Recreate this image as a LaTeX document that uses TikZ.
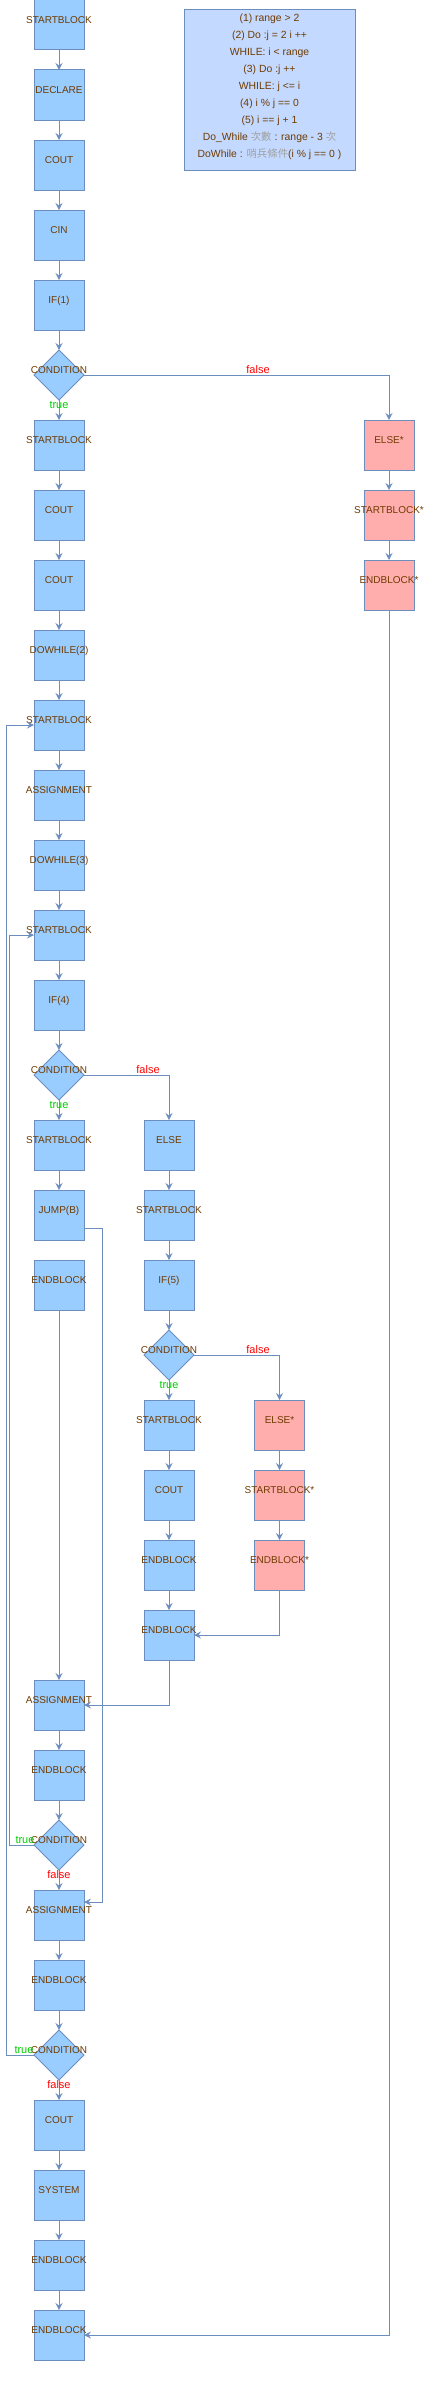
\documentclass[tikz,border=0pt]{standalone}
\usepackage{fontspec}
\setmainfont{Liberation Sans}
\newfontfamily\cjkfont{Noto Sans CJK TC}
\usetikzlibrary{shapes.geometric,arrows.meta}
\definecolor{ec}{HTML}{6C8EBF}
\definecolor{bf}{HTML}{99CCFF}
\definecolor{pf}{HTML}{FFADAD}
\definecolor{lf}{HTML}{C3D9FF}
\definecolor{tc}{HTML}{6F3B00}
\definecolor{gt}{HTML}{00CC00}
\definecolor{rt}{HTML}{FF0000}
\definecolor{cg}{HTML}{A0A0A0}
\tikzset{
 blk/.style={draw=ec, line width=1pt, minimum width=50pt, minimum height=50pt, inner sep=0pt, outer sep=0pt},
 dia/.style={blk, diamond, aspect=1, fill=bf},
 lbl/.style={text=tc, font=\fontsize{10}{12}\selectfont, inner sep=0pt, anchor=base},
 leg/.style={text=tc, font=\fontsize{10.4}{12}\selectfont, inner sep=0pt, anchor=base},
 arr/.style={draw=ec, line width=1pt, -{Stealth[length=7pt,width=7pt,inset=2.5pt]}},
 tl/.style={text=gt, font=\fontsize{11}{13}\selectfont, inner sep=0pt},
 fl/.style={text=rt, font=\fontsize{11}{13}\selectfont, inner sep=0pt},
}
\newcommand\bx[5]{%
  \node[blk, fill=#5] (#1) at (#2,#3+25) {};
  \node[lbl] (#1t) at (#2,#3+23.6) {#4};}
\newcommand\dm[3]{%
  \node[dia] (#1) at (#2,#3+25) {};
  \node[lbl] (#1t) at (#2,#3+23.6) {CONDITION};}
\begin{document}
\begin{tikzpicture}[x=1pt,y=-1pt]
\useasboundingbox (0,0) rectangle (430,2382);
% legend
\node[draw=ec, fill=lf, line width=1pt, minimum width=171pt, minimum height=160pt, inner sep=0pt] (legend) at (269.5,90) {};
\node[leg] (g1) at (269.5,21.1) {(1) range > 2};
\node[leg] (g2) at (269.5,38.1) {(2) Do :j = 2 i ++};
\node[leg] (g3) at (269.5,55.1) {WHILE: i < range};
\node[leg] (g4) at (269.5,72.1) {(3) Do :j ++};
\node[leg] (g5) at (269.5,89.1) {WHILE: j <= i};
\node[leg] (g6) at (269.5,106.1) {(4) i \% j == 0};
\node[leg] (g7) at (269.5,123.1) {(5) i == j + 1};
\node[leg] (g8) at (269.5,140.1) {Do\_While {\cjkfont\color{cg}次數} : range - 3 {\cjkfont\color{cg}次}};
\node[leg] (g9) at (269.5,157.1) {DoWhile : {\cjkfont\color{cg}哨兵條件}(i \% j == 0 )};
% main column
\bx{a1}{59}{0}{STARTBLOCK}{bf}
\bx{a2}{59}{70}{DECLARE}{bf}
\bx{a3}{59}{140}{COUT}{bf}
\bx{a4}{59}{210}{CIN}{bf}
\bx{a5}{59}{280}{IF(1)}{bf}
\dm{c1}{59}{350}
\bx{a6}{59}{420}{STARTBLOCK}{bf}
\bx{a7}{59}{490}{COUT}{bf}
\bx{a8}{59}{560}{COUT}{bf}
\bx{a9}{59}{630}{DOWHILE(2)}{bf}
\bx{a10}{59}{700}{STARTBLOCK}{bf}
\bx{a11}{59}{770}{ASSIGNMENT}{bf}
\bx{a12}{59}{840}{DOWHILE(3)}{bf}
\bx{a13}{59}{910}{STARTBLOCK}{bf}
\bx{a14}{59}{980}{IF(4)}{bf}
\dm{c2}{59}{1050}
\bx{a15}{59}{1120}{STARTBLOCK}{bf}
\bx{a16}{59}{1190}{JUMP(B)}{bf}
\bx{a17}{59}{1260}{ENDBLOCK}{bf}
\bx{a18}{59}{1680}{ASSIGNMENT}{bf}
\bx{a19}{59}{1750}{ENDBLOCK}{bf}
\dm{c4}{59}{1820}
\bx{a20}{59}{1890}{ASSIGNMENT}{bf}
\bx{a21}{59}{1960}{ENDBLOCK}{bf}
\dm{c5}{59}{2030}
\bx{a22}{59}{2100}{COUT}{bf}
\bx{a23}{59}{2170}{SYSTEM}{bf}
\bx{a24}{59}{2240}{ENDBLOCK}{bf}
\bx{a25}{59}{2310}{ENDBLOCK}{bf}
% right column
\bx{d1}{389}{420}{ELSE*}{pf}
\bx{d2}{389}{490}{STARTBLOCK*}{pf}
\bx{d3}{389}{560}{ENDBLOCK*}{pf}
% column B
\bx{b1}{169}{1120}{ELSE}{bf}
\bx{b2}{169}{1190}{STARTBLOCK}{bf}
\bx{b3}{169}{1260}{IF(5)}{bf}
\dm{c3}{169}{1330}
\bx{b4}{169}{1400}{STARTBLOCK}{bf}
\bx{b5}{169}{1470}{COUT}{bf}
\bx{b6}{169}{1540}{ENDBLOCK}{bf}
\bx{b7}{169}{1610}{ENDBLOCK}{bf}
% column C
\bx{e1}{279.5}{1400}{ELSE*}{pf}
\bx{e2}{279.5}{1470}{STARTBLOCK*}{pf}
\bx{e3}{279.5}{1540}{ENDBLOCK*}{pf}
% edges main
\foreach \p/\q in {a1/a2,a2/a3,a3/a4,a4/a5,a5/c1,c1/a6,a6/a7,a7/a8,a8/a9,a9/a10,a10/a11,a11/a12,a12/a13,a13/a14,a14/c2,c2/a15,a15/a16,a17/a18,a18/a19,a19/c4,c4/a20,a20/a21,a21/c5,c5/a22,a22/a23,a23/a24,a24/a25,d1/d2,d2/d3,b1/b2,b2/b3,b3/c3,c3/b4,b4/b5,b5/b6,b6/b7,e1/e2,e2/e3}
  \draw[arr] (\p) -- (\q);
\draw[arr] (c1.east) -| (d1.north);
\draw[arr] (d3.south) |- (a25.east);
\draw[arr] (c2.east) -| (b1.north);
\draw[arr] (c3.east) -| (e1.north);
\draw[arr] (e3.south) |- (b7.east);
\draw[arr] (b7.south) |- (a18.east);
\draw[arr] ([yshift=-13pt]a16.east) -- ++(18,0) |- ([yshift=13pt]a20.east);
\draw[arr] (c4.west) -- ++(-24.7,0) |- (a13.west);
\draw[arr] (c5.west) -- ++(-27.7,0) |- (a10.west);
% branch labels
\node[fl] (f1) at (258,370) {false};
\node[tl] (t1) at (59,405) {true};
\node[fl] (f2) at (148,1070) {false};
\node[tl] (t2) at (59,1105) {true};
\node[fl] (f3) at (258,1350) {false};
\node[tl] (t3) at (169,1385) {true};
\node[tl] (t4) at (25,1840) {true};
\node[fl] (f4) at (59,1875) {false};
\node[tl] (t5) at (24,2050) {true};
\node[fl] (f5) at (59,2085) {false};
\end{tikzpicture}
\end{document}
